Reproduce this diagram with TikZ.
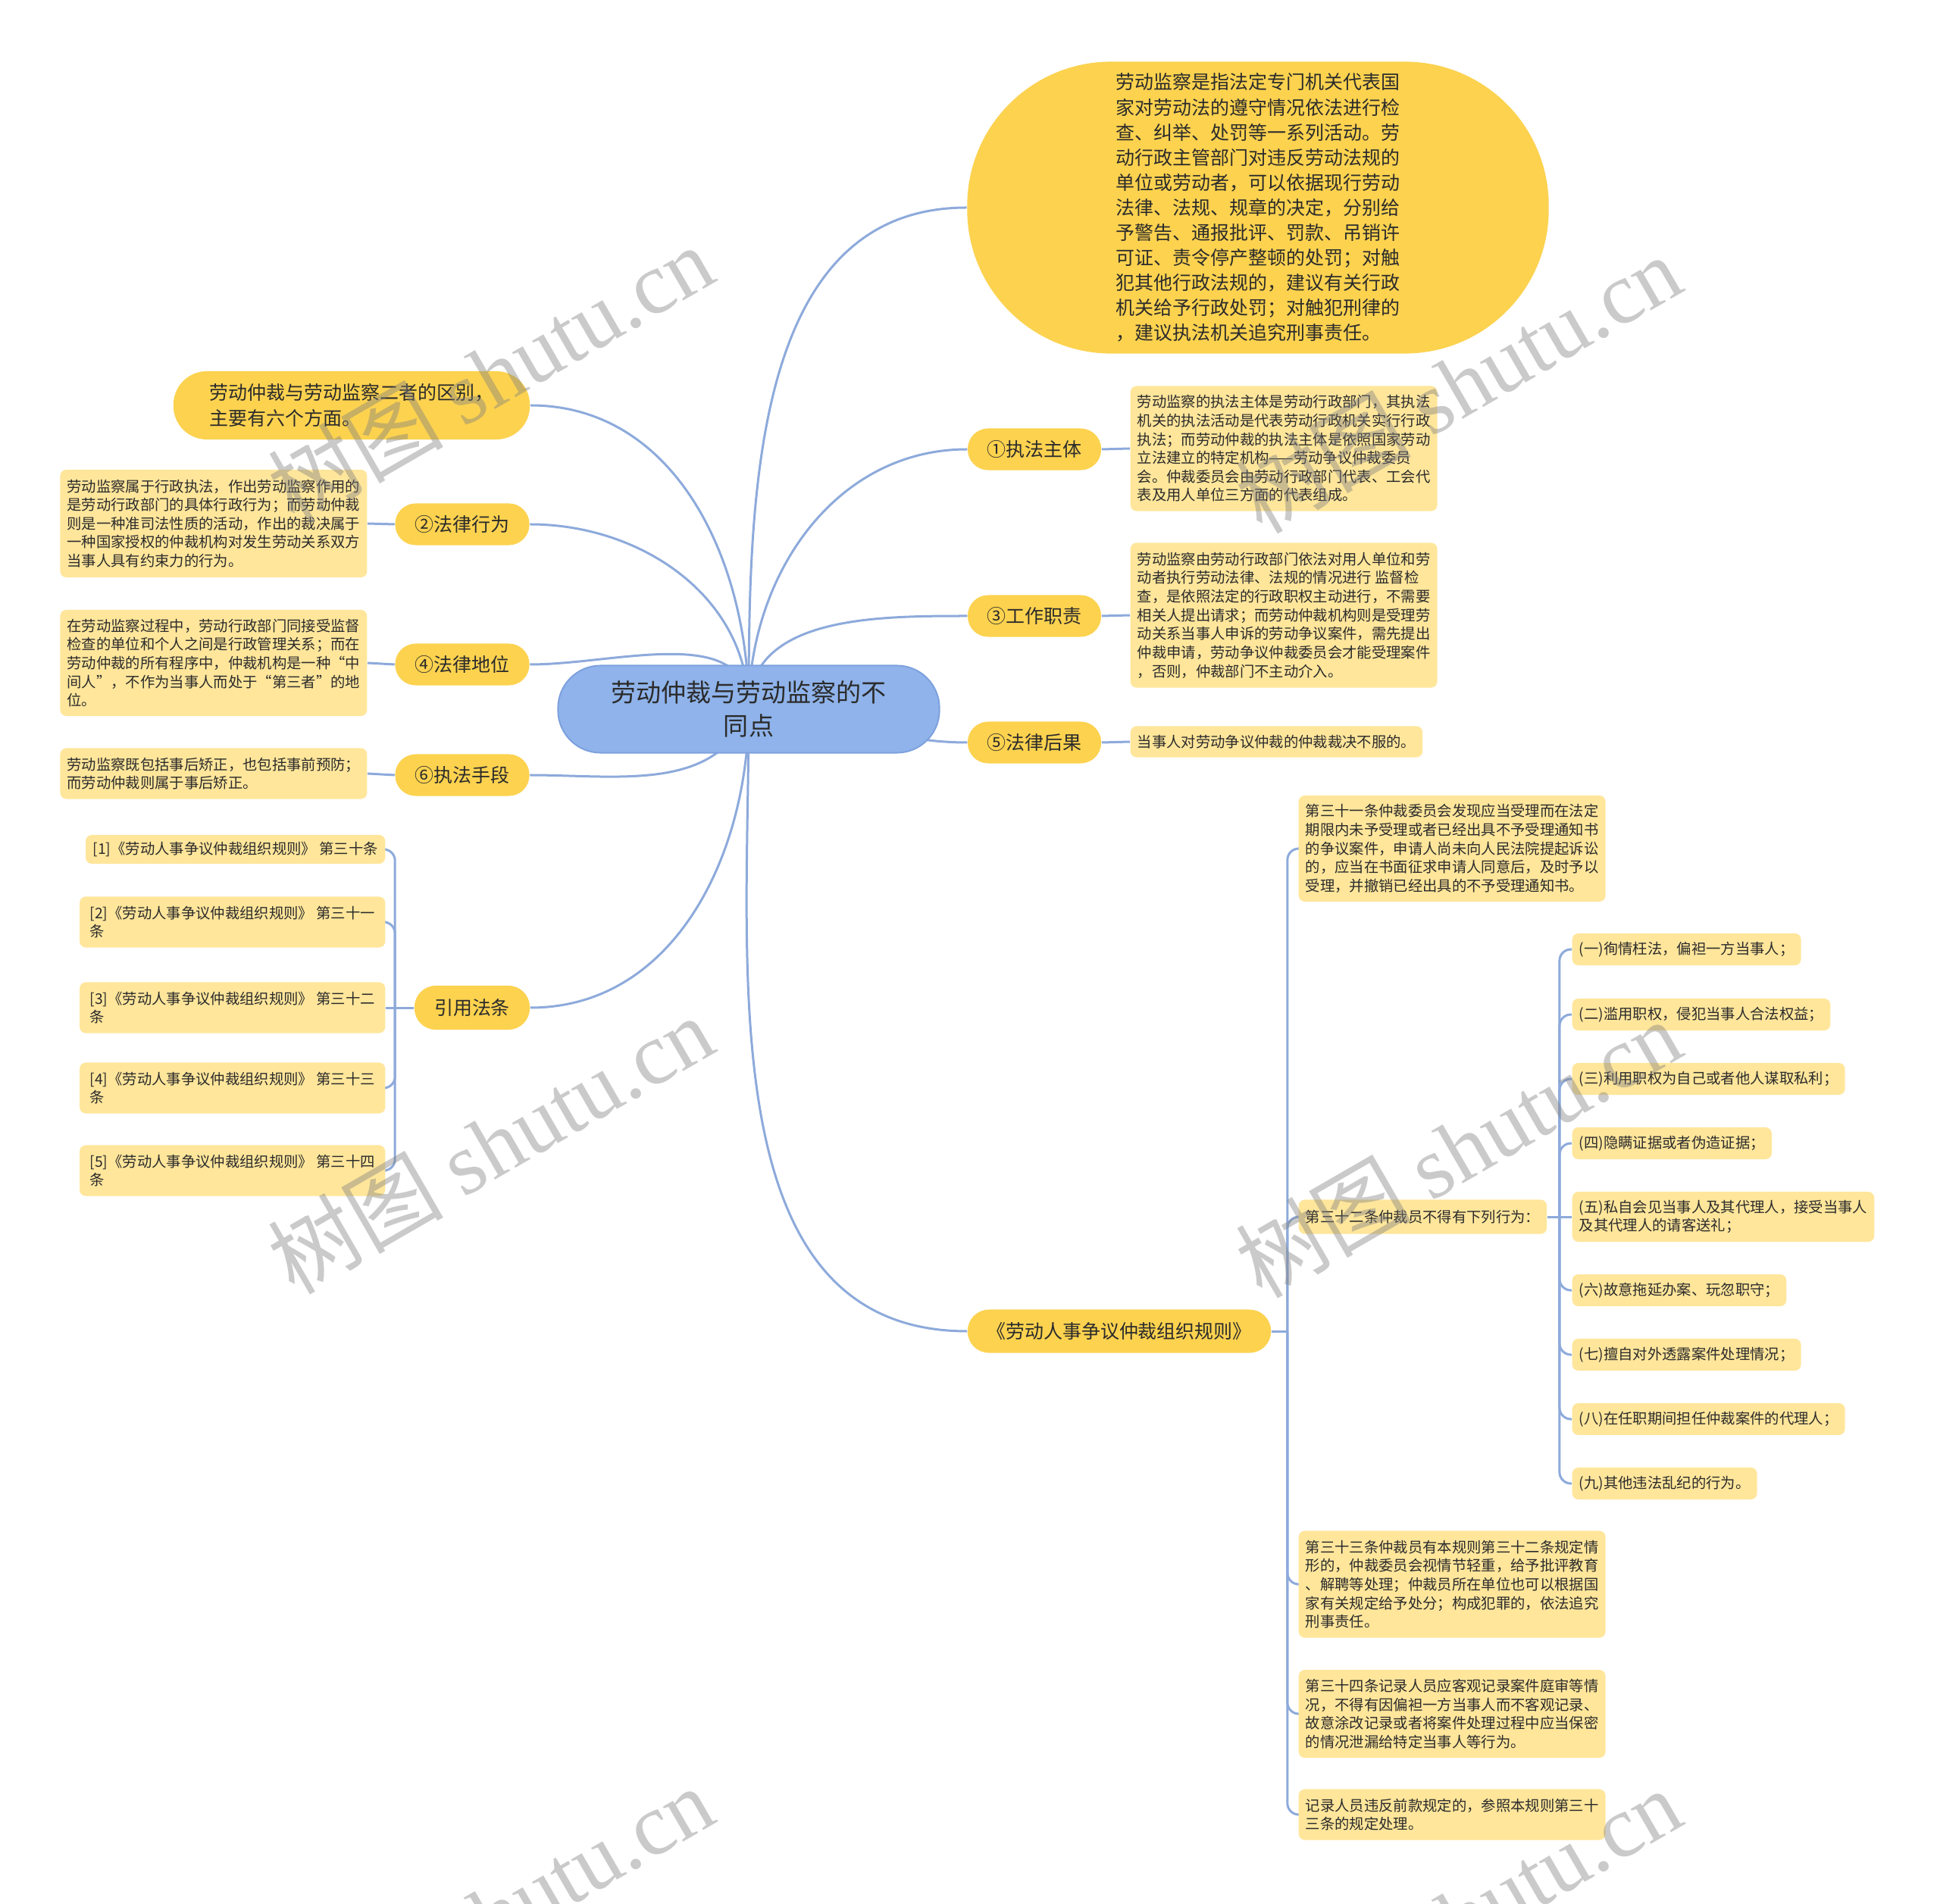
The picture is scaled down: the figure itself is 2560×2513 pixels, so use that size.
\documentclass[tikz,border=0pt]{standalone}
\usepackage{fontspec}
\setmainfont{Noto Sans CJK SC}
\newfontfamily\wmlatin{Liberation Serif}
\usetikzlibrary{calc}
\definecolor{mainyel}{HTML}{FCD24F}
\definecolor{leafyel}{HTML}{FFE69B}
\definecolor{linkblue}{HTML}{8DAADB}
\definecolor{rootfill}{HTML}{8FB3EA}
\definecolor{rootdraw}{HTML}{7EA1DE}
\definecolor{txt}{HTML}{2B2B2B}
\pgfdeclarelayer{bg}
\pgfsetlayers{bg,main}
\tikzset{
 rootnode/.style={fill=rootfill, draw=rootdraw, line width=0.02cm, rounded corners=0.56cm, minimum width=5.03cm, minimum height=1.15cm, inner ysep=0.05cm, align=center, font=\fontsize{9.4pt}{12.5pt}\selectfont, text=txt},
 topic/.style={fill=mainyel, rounded corners=0.27cm, minimum height=0.55cm, inner xsep=0.15cm, align=center, font=\fontsize{7.1pt}{9.4pt}\selectfont, text=txt},
 leaf/.style={fill=leafyel, rounded corners=0.08cm, inner xsep=0.09cm, inner ysep=0.05cm, align=left, font=\fontsize{5.5pt}{7pt}\selectfont, text=txt},
 link/.style={draw=linkblue, line width=0.03cm},
 wmstyle/.style={rotate=30, text=gray, opacity=0.42, font=\fontsize{33pt}{33pt}\selectfont},
}
\newcommand\wmark[1]{\node[wmstyle] at (#1) {树图 {\wmlatin shutu.cn}};}
\begin{document}
\begin{tikzpicture}[x=0.01cm, y=-0.01cm]
\useasboundingbox (0,0) rectangle (2560,2513);
\clip (0,0) rectangle (2560,2513);
% root
\node[rootnode] (C) at (988,936) {劳动仲裁与劳动监察的不\\同点};
% top ellipse
\node[topic, rounded corners=1.9cm, minimum width=7.67cm, minimum height=3.85cm, align=left] (T) at (1660,274) {劳动监察是指法定专门机关代表国\\家对劳动法的遵守情况依法进行检\\查、纠举、处罚等一系列活动。劳\\动行政主管部门对违反劳动法规的\\单位或劳动者，可以依据现行劳动\\法律、法规、规章的决定，分别给\\予警告、通报批评、罚款、吊销许\\可证、责令停产整顿的处罚；对触\\犯其他行政法规的，建议有关行政\\机关给予行政处罚；对触犯刑律的\\，建议执法机关追究刑事责任。};
% top left
\node[topic, rounded corners=0.44cm, minimum width=4.7cm, minimum height=0.9cm, align=left] (TL) at (464,535) {劳动仲裁与劳动监察二者的区别，\\主要有六个方面。};
% right topics
\node[topic, minimum width=1.76cm] (n1) at (1365,593) {①执法主体};
\node[topic, minimum width=1.76cm] (n3) at (1365,813) {③工作职责};
\node[topic, minimum width=1.76cm] (n5) at (1365,980) {⑤法律后果};
\node[topic, minimum width=4.0cm, minimum height=0.57cm, rounded corners=0.28cm] (R) at (1477,1757) {《劳动人事争议仲裁组织规则》};
% left topics
\node[topic, minimum width=1.77cm] (n2) at (610,692) {②法律行为};
\node[topic, minimum width=1.77cm] (n4) at (610,877) {④法律地位};
\node[topic, minimum width=1.77cm] (n6) at (610,1023) {⑥执法手段};
\node[topic, minimum width=1.52cm, minimum height=0.58cm, rounded corners=0.28cm] (Y) at (623,1330) {引用法条};
% right leaves
\node[leaf, anchor=west, minimum width=4.03cm, minimum height=1.65cm] (l1) at (1491,592) {劳动监察的执法主体是劳动行政部门，其执法\\机关的执法活动是代表劳动行政机关实行行政\\执法；而劳动仲裁的执法主体是依照国家劳动\\立法建立的特定机构——劳动争议仲裁委员\\会。仲裁委员会由劳动行政部门代表、工会代\\表及用人单位三方面的代表组成。};
\node[leaf, anchor=west, minimum width=4.03cm, minimum height=1.91cm] (l3) at (1491,812) {劳动监察由劳动行政部门依法对用人单位和劳\\动者执行劳动法律、法规的情况进行 监督检\\查，是依照法定的行政职权主动进行，不需要\\相关人提出请求；而劳动仲裁机构则是受理劳\\动关系当事人申诉的劳动争议案件，需先提出\\仲裁申请，劳动争议仲裁委员会才能受理案件\\，否则，仲裁部门不主动介入。};
\node[leaf, anchor=west, minimum height=0.41cm] (l5) at (1491,979) {当事人对劳动争议仲裁的仲裁裁决不服的。};
% left leaves
\node[leaf, anchor=east, minimum width=4.03cm, minimum height=1.42cm] (l2) at (485,691) {劳动监察属于行政执法，作出劳动监察作用的\\是劳动行政部门的具体行政行为；而劳动仲裁\\则是一种准司法性质的活动，作出的裁决属于\\一种国家授权的仲裁机构对发生劳动关系双方\\当事人具有约束力的行为。};
\node[leaf, anchor=east, minimum width=4.03cm, minimum height=1.40cm] (l4) at (485,875) {在劳动监察过程中，劳动行政部门同接受监督\\检查的单位和个人之间是行政管理关系；而在\\劳动仲裁的所有程序中，仲裁机构是一种“中\\间人”，不作为当事人而处于“第三者”的地\\位。};
\node[leaf, anchor=east, minimum width=4.03cm, minimum height=0.67cm] (l6) at (485,1021) {劳动监察既包括事后矫正，也包括事前预防；\\而劳动仲裁则属于事后矫正。};
% references
\node[leaf, anchor=east, minimum width=3.95cm, minimum height=0.38cm] (r1) at (509,1121) {[1]《劳动人事争议仲裁组织规则》 第三十条};
\node[leaf, anchor=east, minimum width=4.03cm, minimum height=0.67cm] (r2) at (509,1217) {[2]《劳动人事争议仲裁组织规则》 第三十一\\条};
\node[leaf, anchor=east, minimum width=4.03cm, minimum height=0.67cm] (r3) at (509,1330) {[3]《劳动人事争议仲裁组织规则》 第三十二\\条};
\node[leaf, anchor=east, minimum width=4.03cm, minimum height=0.67cm] (r4) at (509,1436) {[4]《劳动人事争议仲裁组织规则》 第三十三\\条};
\node[leaf, anchor=east, minimum width=4.03cm, minimum height=0.67cm] (r5) at (509,1545) {[5]《劳动人事争议仲裁组织规则》 第三十四\\条};
% rules subtree
\node[leaf, anchor=west, minimum width=4.03cm, minimum height=1.40cm] (A) at (1713,1120) {第三十一条仲裁委员会发现应当受理而在法定\\期限内未予受理或者已经出具不予受理通知书\\的争议案件，申请人尚未向人民法院提起诉讼\\的，应当在书面征求申请人同意后，及时予以\\受理，并撤销已经出具的不予受理通知书。};
\node[leaf, anchor=west, minimum height=0.45cm] (B) at (1713,1606) {第三十二条仲裁员不得有下列行为：};
\node[leaf, anchor=west, minimum width=4.03cm, minimum height=1.41cm] (Cc) at (1713,2091) {第三十三条仲裁员有本规则第三十二条规定情\\形的，仲裁委员会视情节轻重，给予批评教育\\、解聘等处理；仲裁员所在单位也可以根据国\\家有关规定给予处分；构成犯罪的，依法追究\\刑事责任。};
\node[leaf, anchor=west, minimum width=4.03cm, minimum height=1.16cm] (D) at (1713,2262) {第三十四条记录人员应客观记录案件庭审等情\\况，不得有因偏袒一方当事人而不客观记录、\\故意涂改记录或者将案件处理过程中应当保密\\的情况泄漏给特定当事人等行为。};
\node[leaf, anchor=west, minimum width=4.03cm, minimum height=0.67cm] (E) at (1713,2395) {记录人员违反前款规定的，参照本规则第三十\\三条的规定处理。};
% items
\node[leaf, anchor=west, minimum height=0.42cm] (i1) at (2074,1253) {(一)徇情枉法，偏袒一方当事人；};
\node[leaf, anchor=west, minimum height=0.42cm] (i2) at (2074,1339) {(二)滥用职权，侵犯当事人合法权益；};
\node[leaf, anchor=west, minimum height=0.42cm] (i3) at (2074,1424) {(三)利用职权为自己或者他人谋取私利；};
\node[leaf, anchor=west, minimum height=0.42cm] (i4) at (2074,1509) {(四)隐瞒证据或者伪造证据；};
\node[leaf, anchor=west, minimum height=0.66cm] (i5) at (2074,1606) {(五)私自会见当事人及其代理人，接受当事人\\及其代理人的请客送礼；};
\node[leaf, anchor=west, minimum height=0.42cm] (i6) at (2074,1703) {(六)故意拖延办案、玩忽职守；};
\node[leaf, anchor=west, minimum height=0.42cm] (i7) at (2074,1788) {(七)擅自对外透露案件处理情况；};
\node[leaf, anchor=west, minimum height=0.42cm] (i8) at (2074,1873) {(八)在任职期间担任仲裁案件的代理人；};
\node[leaf, anchor=west, minimum height=0.42cm] (i9) at (2074,1958) {(九)其他违法乱纪的行为。};
% junctions
\coordinate (jr) at ([xshift=0.21cm]R.east);
\coordinate (jb) at ([xshift=0.16cm]B.east);
\coordinate (jy) at ([xshift=-0.25cm]Y.west);
\begin{pgfonlayer}{bg}
\draw[link] (C.center) to[out=90,in=180] (T.west);
\draw[link] (C.center) to[out=90,in=0] (TL.east);
\draw[link] (C.center) to[out=90,in=180] (n1.west);
\draw[link] (C.center) to[out=90,in=0] (n2.east);
\draw[link] (C.center) to[out=90,in=180] (n3.west);
\draw[link] (C.center) to[out=90,in=0] (n4.east);
\draw[link] (C.center) to[out=0,in=180] (n5.west);
\draw[link] (C.center) to[out=-110,in=0] (n6.east);
\draw[link] (C.center) to[out=-90,in=0] (Y.east);
\draw[link] (C.center) to[out=-90,in=180] (R.west);
\draw[link] (n1.east) -- (l1.west);
\draw[link] (n3.east) -- (l3.west);
\draw[link] (n5.east) -- (l5.west);
\draw[link] (n2.west) -- (l2.east);
\draw[link] (n4.west) -- (l4.east);
\draw[link] (n6.west) -- (l6.east);
\draw[link] (R.east) -- (jr);
\foreach \t in {A,B,Cc,D,E} \draw[link, rounded corners=0.15cm] (jr) |- (\t.west);
\draw[link] (B.east) -- (jb);
\foreach \t in {i1,i2,i3,i4,i6,i7,i8,i9} \draw[link, rounded corners=0.15cm] (jb) |- (\t.west);
\draw[link] (jb) -- (i5.west);
\draw[link] (Y.west) -- (jy);
\foreach \t in {r1,r2,r4,r5} \draw[link, rounded corners=0.15cm] (jy) |- (\t.east);
\draw[link] (jy) -- (r3.east);
\end{pgfonlayer}
% watermarks
\wmark{647,493}
\wmark{1924,506}
\wmark{647,1510}
\wmark{1924,1515}
\wmark{647,2527}
\wmark{1924,2530}
\end{tikzpicture}
\end{document}
